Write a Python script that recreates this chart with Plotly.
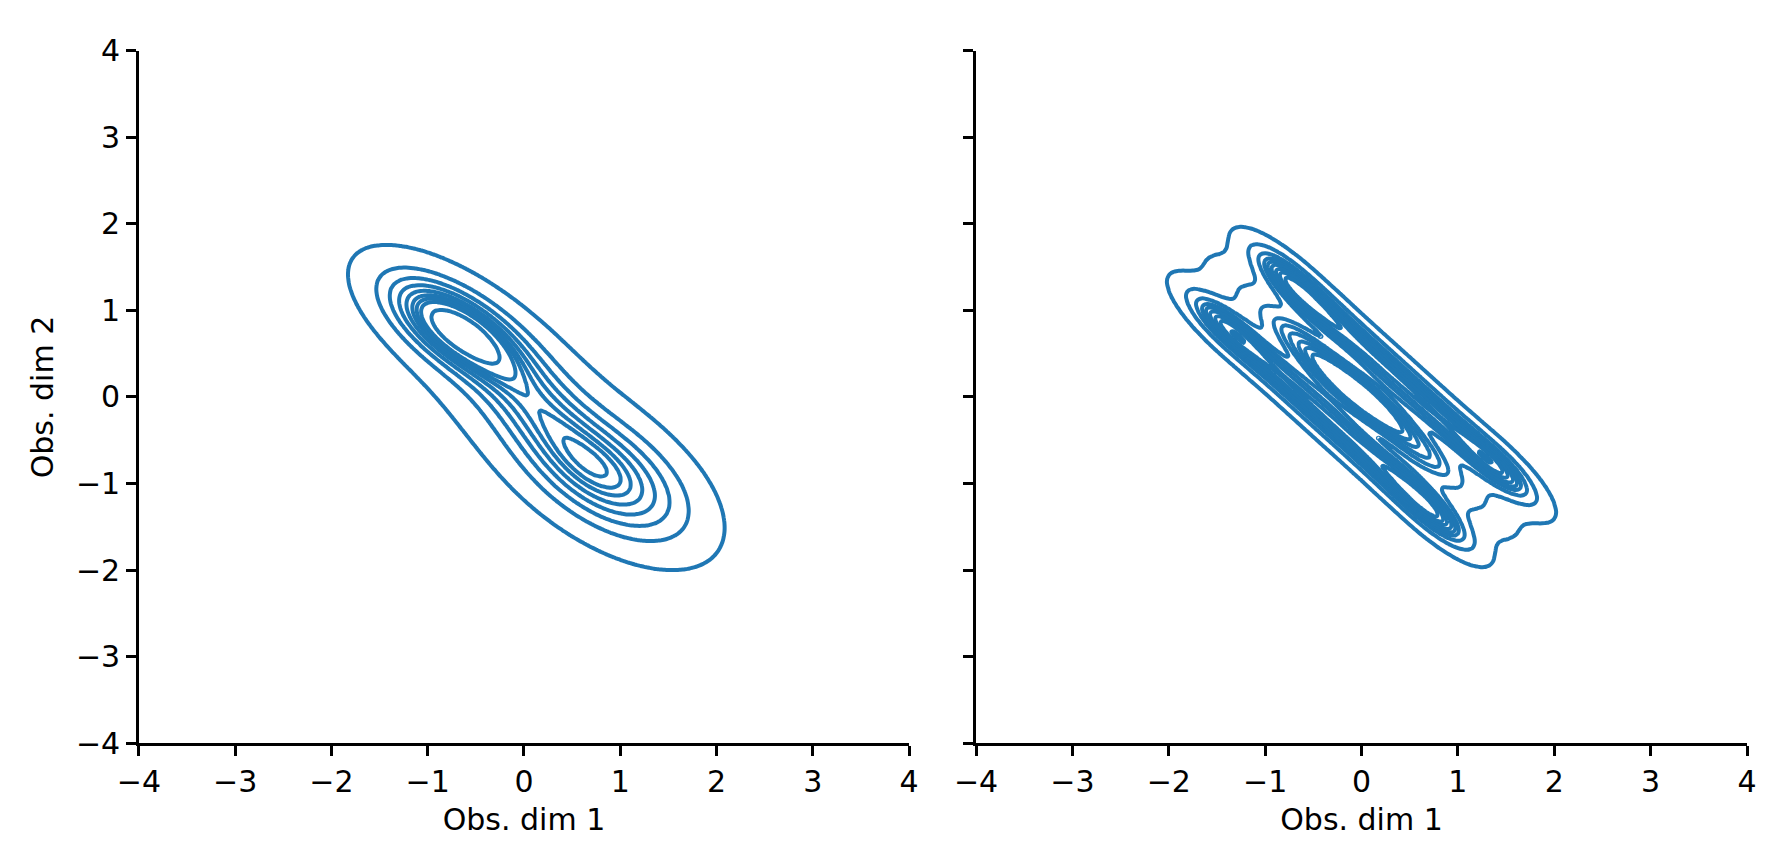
import numpy as np
import plotly.graph_objects as go

# Mixture components (x mean, y mean,
# sd along major axis, sd along minor axis, major-axis angle in deg, weight)
LEFT_MX = [-0.70, 0.85, 0.08, 0.05]
LEFT_MY = [0.78, -0.90, -0.05, -0.05]
LEFT_S1 = [0.50, 0.60, 0.70, 1.30]
LEFT_S2 = [0.22, 0.32, 0.25, 0.45]
LEFT_ANG = [-38, -38, -50, -45]
LEFT_W = [0.30, 0.30, 0.20, 0.20]

RIGHT_MX = [-0.76, -0.23, 0.30, 0.83, 1.43, 0.76, 0.23, -0.30, -0.83, -1.43,
            0.0, -0.03, 0.64, -0.64, 1.17, -1.17]
RIGHT_MY = [1.36, 0.83, 0.30, -0.23, -0.83, -1.36, -0.83, -0.30, 0.23, 0.83,
            0.0, 0.03, -0.64, 0.64, -1.17, 1.17]
RIGHT_S1 = [0.45, 0.45, 0.45, 0.45, 0.45, 0.45, 0.45, 0.45, 0.45, 0.45,
            0.90, 0.45, 0.45, 0.45, 0.50, 0.50]
RIGHT_S2 = [0.14, 0.14, 0.14, 0.14, 0.14, 0.14, 0.14, 0.14, 0.14, 0.14,
            0.20, 0.12, 0.16, 0.16, 0.18, 0.18]
RIGHT_ANG = [-46, -46, -46, -46, -46, -46, -46, -46, -46, -46,
             -45, -43, -46, -46, -46, -46]
RIGHT_W = [0.07, 0.05, 0.05, 0.05, 0.07, 0.07, 0.05, 0.05, 0.05, 0.07,
           0.12, 0.05, 0.035, 0.035, 0.035, 0.035]

TICKS = [-4, -3, -2, -1, 0, 1, 2, 3, 4]
X_TITLE = "Obs. dim 1"
Y_TITLE = "Obs. dim 2"
N_LEVELS = 10
THRESH = 0.05

BLUE = "#1f77b4"
FONT = "DejaVu Sans"

grid = np.linspace(-4, 4, 321)
gx, gy = np.meshgrid(grid, grid)


def mixture(mx, my, s1, s2, ang, w):
    z = np.zeros_like(gx)
    for cx, cy, a, b, t, wt in zip(mx, my, s1, s2, ang, w):
        th = np.deg2rad(t)
        dx, dy = gx - cx, gy - cy
        p = dx * np.cos(th) + dy * np.sin(th)
        q = -dx * np.sin(th) + dy * np.cos(th)
        z += wt / (2 * np.pi * a * b) * np.exp(-0.5 * ((p / a) ** 2 + (q / b) ** 2))
    return z


def mass_below(z):
    # iso-proportion transform, like seaborn's kdeplot levels
    flat = z.ravel()
    order = np.argsort(flat)
    cum = np.cumsum(flat[order])
    cum /= cum[-1]
    out = np.empty_like(cum)
    out[order] = cum
    return out.reshape(z.shape)


left_z = mass_below(mixture(LEFT_MX, LEFT_MY, LEFT_S1, LEFT_S2, LEFT_ANG, LEFT_W))
right_z = mass_below(mixture(RIGHT_MX, RIGHT_MY, RIGHT_S1, RIGHT_S2, RIGHT_ANG, RIGHT_W))

step = (1 - THRESH) / (N_LEVELS - 1)

fig = go.Figure()
for z, xa, ya in [(left_z, "x", "y"), (right_z, "x2", "y2")]:
    fig.add_trace(go.Contour(
        x=grid, y=grid, z=z,
        xaxis=xa, yaxis=ya,
        autocontour=False,
        contours=dict(coloring="lines", start=THRESH, end=1 - step + 0.001, size=step),
        colorscale=[[0, BLUE], [1, BLUE]],
        line=dict(width=4, smoothing=1),
        showscale=False,
        hoverinfo="skip",
    ))

axis_style = dict(
    range=[-4, 4], tickvals=TICKS, showgrid=False, zeroline=False, automargin=False,
    showline=True, linecolor="black", linewidth=2.5,
    ticks="outside", ticklen=10, tickwidth=2.5, tickcolor="black",
    tickfont=dict(family=FONT, size=30, color="black"),
)
title_font = dict(family=FONT, size=30, color="black")

# the page puts the plot 8px in from the top-left corner
fig.update_layout(
    width=1786, height=863,
    margin=dict(l=0, r=0, t=0, b=0),
    paper_bgcolor="white", plot_bgcolor="white",
    font=dict(family=FONT, size=30, color="black"),
    showlegend=False,
    xaxis=dict(domain=[0.0733, 0.5045], anchor="y",
               title=dict(text=X_TITLE, standoff=12, font=title_font), **axis_style),
    yaxis=dict(domain=[0.1483, 0.9502], anchor="x",
               title=dict(text=Y_TITLE, standoff=14, font=title_font), **axis_style),
    xaxis2=dict(domain=[0.542, 0.9737], anchor="y2",
                title=dict(text=X_TITLE, standoff=12, font=title_font), **axis_style),
    yaxis2=dict(domain=[0.1483, 0.9502], anchor="x2", showticklabels=False, **axis_style),
)

fig.write_html("out.html")
